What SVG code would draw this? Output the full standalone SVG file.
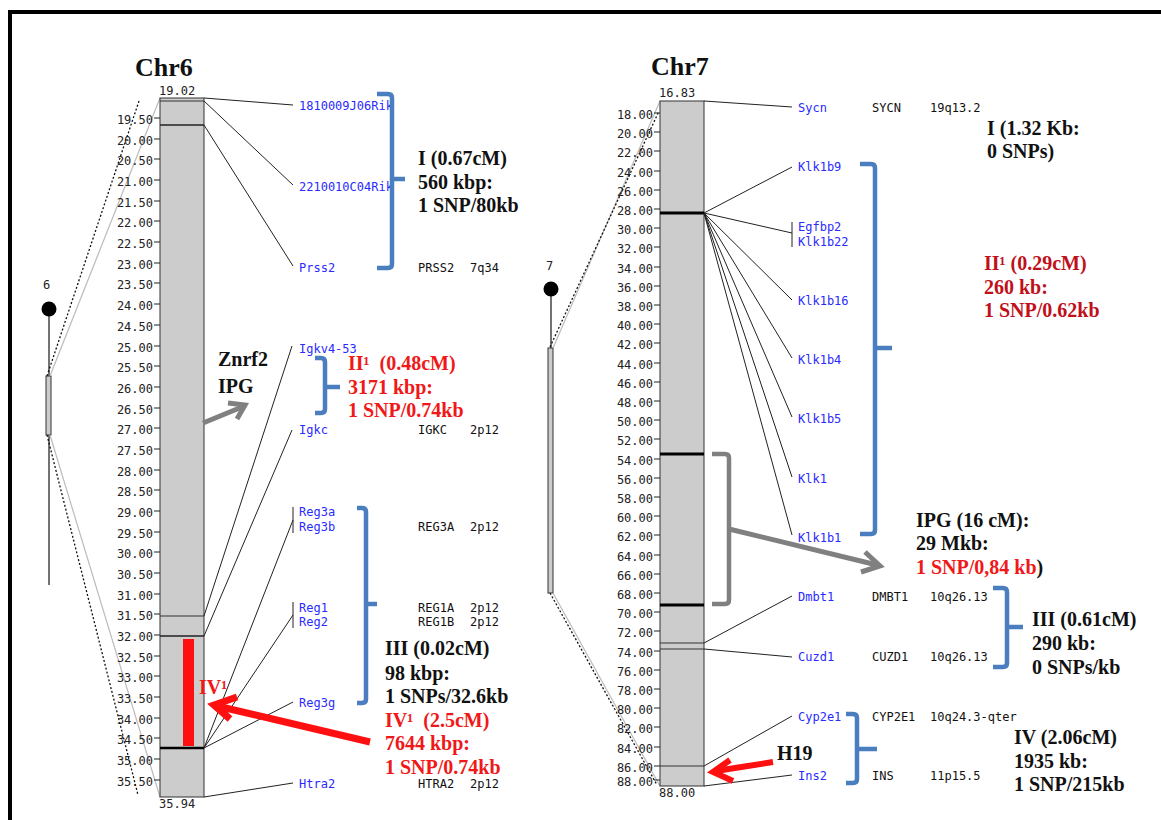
<svg xmlns="http://www.w3.org/2000/svg" width="1161" height="820" viewBox="0 0 1161 820">
<style>
.tk{font-family:"DejaVu Sans Mono",monospace;font-size:12px;fill:#222;text-anchor:end}
.tm{stroke:#222;stroke-width:1}
.end{font-family:"DejaVu Sans Mono",monospace;font-size:12px;fill:#222}
.gn{font-family:"DejaVu Sans Mono",monospace;font-size:12px;fill:#2a2aff}
.hs{font-family:"DejaVu Sans Mono",monospace;font-size:12px;fill:#111}
.ann{font-family:"Liberation Serif",serif;font-weight:bold;font-size:20px;fill:#111}
.red{fill:#f01818}
.dred{fill:#c0101a}
.title{font-family:"Liberation Serif",serif;font-weight:bold;font-size:26px;fill:#111}
.chr{fill:#cccccc;stroke:#333;stroke-width:1}
.cl{stroke:#222;stroke-width:1;fill:none}
.brace{fill:none;stroke:#4a7ebf;stroke-width:4.5;stroke-linecap:butt}
.gbrace{fill:none;stroke:#808080;stroke-width:4.5}
.dot{stroke:#111;stroke-width:1.3;stroke-dasharray:2,2;fill:none}
.lite{stroke:#bbbbbb;stroke-width:1.2;fill:none}
</style>
<rect x="10" y="12" width="1200" height="900" fill="#ffffff" stroke="#000" stroke-width="4"/>

<g id="chr6">
<text class="title" x="135" y="76">Chr6</text>
<g id="chr6-icon">
<text class="end" x="43" y="289">6</text>
<line x1="49" y1="309" x2="49" y2="585" stroke="#444" stroke-width="1.5"/>
<circle cx="49" cy="309" r="7.5" fill="#000"/>
<rect x="46" y="376" width="5" height="59" fill="#ccc" stroke="#333" stroke-width="1"/>
<line class="dot" x1="139" y1="101" x2="47" y2="376"/>
<line class="lite" x1="160" y1="98" x2="50" y2="376"/>
<line class="dot" x1="47" y1="435" x2="138" y2="795"/>
<line class="lite" x1="50" y1="435" x2="160" y2="797"/>
</g>
<rect class="chr" x="160" y="98" width="44" height="699"/>
<line x1="160" y1="101" x2="204" y2="101" stroke="#333" stroke-width="1"/>
<line x1="160" y1="125" x2="204" y2="125" stroke="#222" stroke-width="1.3"/>
<line x1="160" y1="616" x2="204" y2="616" stroke="#333" stroke-width="1"/>
<line x1="160" y1="636" x2="204" y2="636" stroke="#222" stroke-width="1.3"/>
<line x1="160" y1="748" x2="204" y2="748" stroke="#000" stroke-width="2.5"/>
<rect x="183" y="639" width="11" height="107" fill="#ff1010"/>
<text class="end" x="159" y="95">19.02</text>
<text class="end" x="159" y="808">35.94</text>
<g id="chr6-ticks">
<text class="tk" x="153" y="124">19.50</text><line class="tm" x1="154" y1="118" x2="160" y2="118"/>
<text class="tk" x="153" y="145">20.00</text><line class="tm" x1="154" y1="139" x2="160" y2="139"/>
<text class="tk" x="153" y="165">20.50</text><line class="tm" x1="154" y1="159" x2="160" y2="159"/>
<text class="tk" x="153" y="186">21.00</text><line class="tm" x1="154" y1="180" x2="160" y2="180"/>
<text class="tk" x="153" y="207">21.50</text><line class="tm" x1="154" y1="201" x2="160" y2="201"/>
<text class="tk" x="153" y="227">22.00</text><line class="tm" x1="154" y1="221" x2="160" y2="221"/>
<text class="tk" x="153" y="248">22.50</text><line class="tm" x1="154" y1="242" x2="160" y2="242"/>
<text class="tk" x="153" y="269">23.00</text><line class="tm" x1="154" y1="263" x2="160" y2="263"/>
<text class="tk" x="153" y="289">23.50</text><line class="tm" x1="154" y1="283" x2="160" y2="283"/>
<text class="tk" x="153" y="310">24.00</text><line class="tm" x1="154" y1="304" x2="160" y2="304"/>
<text class="tk" x="153" y="331">24.50</text><line class="tm" x1="154" y1="325" x2="160" y2="325"/>
<text class="tk" x="153" y="352">25.00</text><line class="tm" x1="154" y1="346" x2="160" y2="346"/>
<text class="tk" x="153" y="372">25.50</text><line class="tm" x1="154" y1="366" x2="160" y2="366"/>
<text class="tk" x="153" y="393">26.00</text><line class="tm" x1="154" y1="387" x2="160" y2="387"/>
<text class="tk" x="153" y="414">26.50</text><line class="tm" x1="154" y1="408" x2="160" y2="408"/>
<text class="tk" x="153" y="434">27.00</text><line class="tm" x1="154" y1="428" x2="160" y2="428"/>
<text class="tk" x="153" y="455">27.50</text><line class="tm" x1="154" y1="449" x2="160" y2="449"/>
<text class="tk" x="153" y="476">28.00</text><line class="tm" x1="154" y1="470" x2="160" y2="470"/>
<text class="tk" x="153" y="496">28.50</text><line class="tm" x1="154" y1="490" x2="160" y2="490"/>
<text class="tk" x="153" y="517">29.00</text><line class="tm" x1="154" y1="511" x2="160" y2="511"/>
<text class="tk" x="153" y="538">29.50</text><line class="tm" x1="154" y1="532" x2="160" y2="532"/>
<text class="tk" x="153" y="558">30.00</text><line class="tm" x1="154" y1="552" x2="160" y2="552"/>
<text class="tk" x="153" y="579">30.50</text><line class="tm" x1="154" y1="573" x2="160" y2="573"/>
<text class="tk" x="153" y="600">31.00</text><line class="tm" x1="154" y1="594" x2="160" y2="594"/>
<text class="tk" x="153" y="620">31.50</text><line class="tm" x1="154" y1="614" x2="160" y2="614"/>
<text class="tk" x="153" y="641">32.00</text><line class="tm" x1="154" y1="635" x2="160" y2="635"/>
<text class="tk" x="153" y="662">32.50</text><line class="tm" x1="154" y1="656" x2="160" y2="656"/>
<text class="tk" x="153" y="682">33.00</text><line class="tm" x1="154" y1="676" x2="160" y2="676"/>
<text class="tk" x="153" y="703">33.50</text><line class="tm" x1="154" y1="697" x2="160" y2="697"/>
<text class="tk" x="153" y="724">34.00</text><line class="tm" x1="154" y1="718" x2="160" y2="718"/>
<text class="tk" x="153" y="744">34.50</text><line class="tm" x1="154" y1="738" x2="160" y2="738"/>
<text class="tk" x="153" y="765">35.00</text><line class="tm" x1="154" y1="759" x2="160" y2="759"/>
<text class="tk" x="153" y="786">35.50</text><line class="tm" x1="154" y1="780" x2="160" y2="780"/>
</g>
</g>

<g id="chr7">
<text class="title" x="651" y="75">Chr7</text>
<g id="chr7-icon">
<text class="end" x="546" y="270">7</text>
<line x1="551" y1="289" x2="551" y2="348" stroke="#444" stroke-width="1.5"/>
<circle cx="551" cy="289" r="7.5" fill="#000"/>
<rect x="548" y="348" width="5" height="245" fill="#ccc" stroke="#333" stroke-width="1"/>
<line class="lite" x1="553" y1="348" x2="660" y2="101"/>
<line class="dot" x1="550" y1="347" x2="659" y2="111"/>
<line class="dot" x1="550" y1="593" x2="657" y2="785"/>
<line class="lite" x1="553" y1="593" x2="660" y2="786"/>
</g>
<rect class="chr" x="660" y="101" width="44" height="685"/>
<line x1="660" y1="213" x2="704" y2="213" stroke="#000" stroke-width="3"/>
<line x1="660" y1="454" x2="704" y2="454" stroke="#000" stroke-width="3"/>
<line x1="660" y1="605" x2="704" y2="605" stroke="#000" stroke-width="3"/>
<line x1="660" y1="643" x2="704" y2="643" stroke="#333" stroke-width="1"/>
<line x1="660" y1="649" x2="704" y2="649" stroke="#333" stroke-width="1"/>
<line x1="660" y1="766" x2="704" y2="766" stroke="#333" stroke-width="1"/>
<text class="end" x="659" y="97">16.83</text>
<text class="end" x="659" y="797">88.00</text>
<g id="chr7-ticks">
<text class="tk" x="653" y="119">18.00</text><line class="tm" x1="654" y1="113" x2="660" y2="113"/>
<text class="tk" x="653" y="138">20.00</text><line class="tm" x1="654" y1="132" x2="660" y2="132"/>
<text class="tk" x="653" y="157">22.00</text><line class="tm" x1="654" y1="151" x2="660" y2="151"/>
<text class="tk" x="653" y="177">24.00</text><line class="tm" x1="654" y1="171" x2="660" y2="171"/>
<text class="tk" x="653" y="196">26.00</text><line class="tm" x1="654" y1="190" x2="660" y2="190"/>
<text class="tk" x="653" y="215">28.00</text><line class="tm" x1="654" y1="209" x2="660" y2="209"/>
<text class="tk" x="653" y="234">30.00</text><line class="tm" x1="654" y1="228" x2="660" y2="228"/>
<text class="tk" x="653" y="253">32.00</text><line class="tm" x1="654" y1="247" x2="660" y2="247"/>
<text class="tk" x="653" y="273">34.00</text><line class="tm" x1="654" y1="267" x2="660" y2="267"/>
<text class="tk" x="653" y="292">36.00</text><line class="tm" x1="654" y1="286" x2="660" y2="286"/>
<text class="tk" x="653" y="311">38.00</text><line class="tm" x1="654" y1="305" x2="660" y2="305"/>
<text class="tk" x="653" y="330">40.00</text><line class="tm" x1="654" y1="324" x2="660" y2="324"/>
<text class="tk" x="653" y="349">42.00</text><line class="tm" x1="654" y1="343" x2="660" y2="343"/>
<text class="tk" x="653" y="369">44.00</text><line class="tm" x1="654" y1="363" x2="660" y2="363"/>
<text class="tk" x="653" y="388">46.00</text><line class="tm" x1="654" y1="382" x2="660" y2="382"/>
<text class="tk" x="653" y="407">48.00</text><line class="tm" x1="654" y1="401" x2="660" y2="401"/>
<text class="tk" x="653" y="426">50.00</text><line class="tm" x1="654" y1="420" x2="660" y2="420"/>
<text class="tk" x="653" y="445">52.00</text><line class="tm" x1="654" y1="439" x2="660" y2="439"/>
<text class="tk" x="653" y="465">54.00</text><line class="tm" x1="654" y1="459" x2="660" y2="459"/>
<text class="tk" x="653" y="484">56.00</text><line class="tm" x1="654" y1="478" x2="660" y2="478"/>
<text class="tk" x="653" y="503">58.00</text><line class="tm" x1="654" y1="497" x2="660" y2="497"/>
<text class="tk" x="653" y="522">60.00</text><line class="tm" x1="654" y1="516" x2="660" y2="516"/>
<text class="tk" x="653" y="541">62.00</text><line class="tm" x1="654" y1="535" x2="660" y2="535"/>
<text class="tk" x="653" y="561">64.00</text><line class="tm" x1="654" y1="555" x2="660" y2="555"/>
<text class="tk" x="653" y="580">66.00</text><line class="tm" x1="654" y1="574" x2="660" y2="574"/>
<text class="tk" x="653" y="599">68.00</text><line class="tm" x1="654" y1="593" x2="660" y2="593"/>
<text class="tk" x="653" y="618">70.00</text><line class="tm" x1="654" y1="612" x2="660" y2="612"/>
<text class="tk" x="653" y="637">72.00</text><line class="tm" x1="654" y1="631" x2="660" y2="631"/>
<text class="tk" x="653" y="657">74.00</text><line class="tm" x1="654" y1="651" x2="660" y2="651"/>
<text class="tk" x="653" y="676">76.00</text><line class="tm" x1="654" y1="670" x2="660" y2="670"/>
<text class="tk" x="653" y="695">78.00</text><line class="tm" x1="654" y1="689" x2="660" y2="689"/>
<text class="tk" x="653" y="714">80.00</text><line class="tm" x1="654" y1="708" x2="660" y2="708"/>
<text class="tk" x="653" y="733">82.00</text><line class="tm" x1="654" y1="727" x2="660" y2="727"/>
<text class="tk" x="653" y="753">84.00</text><line class="tm" x1="654" y1="747" x2="660" y2="747"/>
<text class="tk" x="653" y="772">86.00</text><line class="tm" x1="654" y1="766" x2="660" y2="766"/>
<text class="tk" x="653" y="786">88.00</text><line class="tm" x1="654" y1="780" x2="660" y2="780"/>
</g>
</g>

<g id="connectors">
<line class="cl" x1="204" y1="98" x2="293" y2="105"/>
<line class="cl" x1="204" y1="101" x2="293" y2="185"/>
<line class="cl" x1="204" y1="125" x2="293" y2="266"/>
<line class="cl" x1="204" y1="616" x2="292" y2="346"/>
<line class="cl" x1="204" y1="636" x2="292" y2="430"/>
<line class="cl" x1="204" y1="748" x2="293" y2="520"/>
<line class="cl" x1="204" y1="748" x2="293" y2="615"/>
<line class="cl" x1="204" y1="748" x2="293" y2="702"/>
<line class="cl" x1="204" y1="797" x2="293" y2="783"/>
<line class="cl" x1="293" y1="507" x2="293" y2="533" stroke-width="1.5"/>
<line class="cl" x1="293" y1="602" x2="293" y2="628" stroke-width="1.5"/>
<line class="cl" x1="704" y1="101" x2="792" y2="107"/>
<line class="cl" x1="704" y1="213" x2="792" y2="167"/>
<line class="cl" x1="704" y1="213" x2="792" y2="233"/>
<line class="cl" x1="704" y1="213" x2="792" y2="300"/>
<line class="cl" x1="704" y1="213" x2="792" y2="358"/>
<line class="cl" x1="704" y1="213" x2="792" y2="417"/>
<line class="cl" x1="704" y1="213" x2="792" y2="477"/>
<line class="cl" x1="704" y1="213" x2="792" y2="535"/>
<line class="cl" x1="704" y1="643" x2="792" y2="596"/>
<line class="cl" x1="704" y1="649" x2="792" y2="657"/>
<line class="cl" x1="704" y1="766" x2="792" y2="716"/>
<line class="cl" x1="704" y1="786" x2="792" y2="775"/>
<line class="cl" x1="792" y1="222" x2="792" y2="247" stroke-width="1.5"/>
</g>

<g id="genes6">
<text class="gn" x="299" y="110">1810009J06Rik</text>
<text class="gn" x="299" y="191">2210010C04Rik</text>
<text class="gn" x="299" y="272">Prss2</text>
<text class="hs" x="418" y="272">PRSS2</text><text class="hs" x="470" y="272">7q34</text>
<text class="gn" x="299" y="353">Igkv4-53</text>
<text class="gn" x="299" y="434">Igkc</text>
<text class="hs" x="418" y="434">IGKC</text><text class="hs" x="470" y="434">2p12</text>
<text class="gn" x="299" y="516">Reg3a</text>
<text class="gn" x="299" y="531">Reg3b</text>
<text class="hs" x="418" y="531">REG3A</text><text class="hs" x="470" y="531">2p12</text>
<text class="gn" x="299" y="612">Reg1</text>
<text class="gn" x="299" y="626">Reg2</text>
<text class="hs" x="418" y="612">REG1A</text><text class="hs" x="470" y="612">2p12</text>
<text class="hs" x="418" y="626">REG1B</text><text class="hs" x="470" y="626">2p12</text>
<text class="gn" x="299" y="707">Reg3g</text>
<text class="gn" x="299" y="788">Htra2</text>
<text class="hs" x="418" y="788">HTRA2</text><text class="hs" x="470" y="788">2p12</text>
</g>

<g id="genes7">
<text class="gn" x="798" y="112">Sycn</text>
<text class="hs" x="872" y="112">SYCN</text><text class="hs" x="930" y="112">19q13.2</text>
<text class="gn" x="798" y="171">Klk1b9</text>
<text class="gn" x="798" y="231">Egfbp2</text>
<text class="gn" x="798" y="246">Klk1b22</text>
<text class="gn" x="798" y="305">Klk1b16</text>
<text class="gn" x="798" y="364">Klk1b4</text>
<text class="gn" x="798" y="423">Klk1b5</text>
<text class="gn" x="798" y="483">Klk1</text>
<text class="gn" x="798" y="542">Klk1b1</text>
<text class="gn" x="798" y="601">Dmbt1</text>
<text class="hs" x="872" y="601">DMBT1</text><text class="hs" x="930" y="601">10q26.13</text>
<text class="gn" x="798" y="661">Cuzd1</text>
<text class="hs" x="872" y="661">CUZD1</text><text class="hs" x="930" y="661">10q26.13</text>
<text class="gn" x="798" y="721">Cyp2e1</text>
<text class="hs" x="872" y="721">CYP2E1</text><text class="hs" x="930" y="721">10q24.3-qter</text>
<text class="gn" x="798" y="780">Ins2</text>
<text class="hs" x="872" y="780">INS</text><text class="hs" x="930" y="780">11p15.5</text>
</g>

<g id="brackets">
<path class="brace" d="M377,94 H388 Q392,94 392,98 V264 Q392,268 388,268 H377 M392,179 H405"/>
<path class="brace" d="M315,358 H321 Q325,358 325,362 V409 Q325,413 321,413 H315 M325,387 H340"/>
<path class="brace" d="M357,508 H362 Q366,508 366,512 V699 Q366,703 362,703 H357 M366,604 H377"/>
<path class="brace" d="M860,164 H871 Q875,164 875,168 V530 Q875,534 871,534 H860 M875,348 H892"/>
<path class="brace" d="M993,588 H1003 Q1007,588 1007,592 V663 Q1007,667 1003,667 H993 M1007,627 H1023"/>
<path class="brace" d="M846,714 H853 Q857,714 857,718 V779 Q857,783 853,783 H846 M857,749 H877"/>
<path class="gbrace" d="M712,454 H725 Q729,454 729,458 V600 Q729,604 725,604 H712"/>
</g>

<g id="arrows">
<line x1="729" y1="529" x2="877" y2="565" stroke="#808080" stroke-width="5"/>
<path d="M865,552 L880,566 L861,572" fill="none" stroke="#808080" stroke-width="5" stroke-linejoin="miter"/>
<line x1="203" y1="423" x2="242" y2="407" stroke="#808080" stroke-width="5"/>
<path d="M228,403 L245,405 L237,419" fill="none" stroke="#808080" stroke-width="5"/>
<line x1="370" y1="742" x2="217" y2="706" stroke="#ff1010" stroke-width="7"/>
<path d="M237,697 L214,705 L230,719" fill="none" stroke="#ff1010" stroke-width="7"/>
<line x1="773" y1="762" x2="716" y2="771" stroke="#ff1010" stroke-width="6"/>
<path d="M730,760 L713,772 L733,781" fill="none" stroke="#ff1010" stroke-width="6"/>
</g>

<g id="annotations">
<text class="ann" x="418" y="165">I (0.67cM)</text>
<text class="ann" x="418" y="189">560 kbp:</text>
<text class="ann" x="418" y="212">1 SNP/80kb</text>
<text class="ann" x="218" y="366" font-size="22">Znrf2</text>
<text class="ann" x="218" y="393" font-size="22">IPG</text>
<text class="ann red" x="348" y="370">II¹&#160; (0.48cM)</text>
<text class="ann red" x="348" y="394">3171 kbp:</text>
<text class="ann red" x="348" y="417">1 SNP/0.74kb</text>
<text class="ann" x="385" y="655">III (0.02cM)</text>
<text class="ann" x="385" y="680">98 kbp:</text>
<text class="ann" x="385" y="703">1 SNPs/32.6kb</text>
<text class="ann red" x="385" y="727">IV¹&#160; (2.5cM)</text>
<text class="ann red" x="385" y="750">7644 kbp:</text>
<text class="ann red" x="385" y="774">1 SNP/0.74kb</text>
<text class="ann red" x="199" y="694" font-size="18">IV¹</text>
<text class="ann" x="987" y="135">I (1.32 Kb:</text>
<text class="ann" x="987" y="158">0 SNPs)</text>
<text class="ann dred" x="984" y="270">II¹ (0.29cM)</text>
<text class="ann dred" x="984" y="294">260 kb:</text>
<text class="ann dred" x="984" y="317">1 SNP/0.62kb</text>
<text class="ann" x="916" y="527">IPG (16 cM):</text>
<text class="ann" x="916" y="550">29 Mkb:</text>
<text class="ann" x="916" y="574"><tspan class="red">1 SNP/0,84 kb</tspan>)</text>
<text class="ann" x="1032" y="626">III (0.61cM)</text>
<text class="ann" x="1032" y="650">290 kb:</text>
<text class="ann" x="1032" y="674">0 SNPs/kb</text>
<text class="ann" x="1014" y="744">IV (2.06cM)</text>
<text class="ann" x="1014" y="768">1935 kb:</text>
<text class="ann" x="1014" y="791">1 SNP/215kb</text>
<text class="ann" x="777" y="760" font-size="22">H19</text>
</g>
</svg>
